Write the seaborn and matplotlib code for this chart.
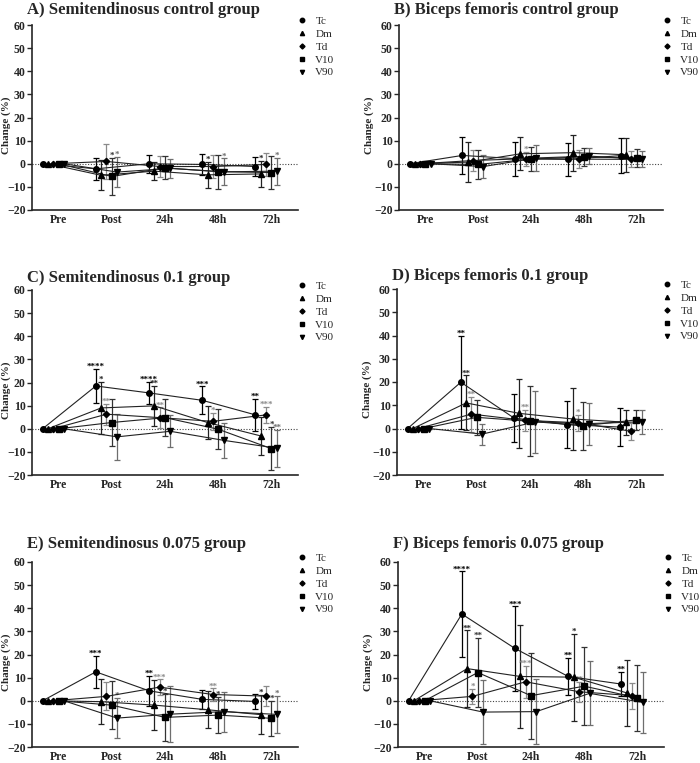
import numpy as np
import pandas as pd
import matplotlib
matplotlib.use('Agg')
import matplotlib.pyplot as plt
import matplotlib.font_manager as fm
import seaborn as sns
from matplotlib.lines import Line2D

# make sure the Times-like serif is registered
for f in fm.findSystemFonts():
    if 'LiberationSerif' in f.replace('-', '').replace(' ', ''):
        fm.fontManager.addfont(f)

# categories
times = ['Pre', 'Post', '24h', '48h', '72h']
series = ['Tc', 'Dm', 'Td', 'V10', 'V90']
titles = ['A) Semitendinosus control group', 'B) Biceps femoris control group',
          'C) Semitendinosus 0.1 group', 'D) Biceps femoris 0.1 group',
          'E) Semitendinosus 0.075 group', 'F) Biceps femoris 0.075 group']

# mean change (%) per panel, one row per series (Tc, Dm, Td, V10, V90)
mean_A = [[0, -2.2, 0.0, -0.3, -1.2], [0, -5.0, -3.2, -4.8, -4.4], [0, 1.0, -1.2, -1.2, -0.3],
          [0, -5.5, -1.8, -3.4, -3.8], [0, -3.6, -2.0, -3.5, -3.2]]
sd_A = [[0, 4.7, 3.9, 4.4, 4.0], [0, 6.5, 4.0, 5.6, 5.7], [0, 7.6, 4.5, 5.0, 5.0],
        [0, 8.0, 5.0, 7.4, 7.0], [0, 6.6, 4.2, 5.8, 5.8]]
stars_A = [['', '', '', '', ''], ['', '', '', '*', '*'], ['', '', '', '', ''],
           ['', '*', '', '', ''], ['', '*', '', '*', '*']]

mean_B = [[0, 3.6, 2.2, 1.9, 3.5], [0, 0.7, 4.3, 4.8, 3.9], [0, 1.4, 2.2, 2.0, 1.9],
          [0, -0.3, 2.0, 3.0, 2.4], [0, -1.2, 2.5, 3.3, 2.0]]
sd_B = [[0, 8.0, 7.3, 7.0, 7.6], [0, 8.5, 7.2, 7.8, 7.3], [0, 4.5, 3.0, 3.8, 3.5],
        [0, 6.3, 5.3, 3.9, 3.9], [0, 5.0, 5.5, 3.5, 3.6]]
stars_B = [['', '', '', '', ''], ['', '', '', '', ''], ['', '', '*', '', ''],
           ['', '', '', '', ''], ['', '', '', '', '']]

mean_C = [[0, 18.5, 15.5, 12.3, 6.0], [0, 9.0, 9.9, 2.7, -3.1], [0, 6.3, 4.8, 3.2, 6.0],
          [0, 2.7, 4.8, -0.2, -8.6], [0, -3.5, -1.1, -5.0, -8.4]]
sd_C = [[0, 7.3, 4.8, 6.0, 7.0], [0, 11.2, 8.8, 7.3, 8.2], [0, 4.5, 4.5, 3.7, 3.6],
        [0, 10.0, 8.0, 8.6, 9.3], [0, 10.0, 7.0, 7.7, 8.0]]
stars_C = [['', '****', '****', '***', '**'], ['', '*', '**', '', ''], ['', '**', '**', '*', '***'],
           ['', '', '', '', '*'], ['', '', '', '', '**']]

mean_D = [[0, 19.9, 4.5, 1.7, 0.6], [0, 11.0, 6.5, 4.1, 2.7], [0, 6.2, 3.5, 2.5, -1.2],
          [0, 4.8, 3.1, 1.2, 3.7], [0, -2.4, 2.8, 2.1, 2.9]]
sd_D = [[0, 20.0, 10.5, 10.0, 8.3], [0, 11.8, 15.0, 13.2, 5.4], [0, 7.5, 4.6, 3.5, 3.6],
        [0, 7.5, 15.0, 10.4, 4.3], [0, 4.5, 13.5, 9.0, 5.2]]
stars_D = [['', '**', '', '', ''], ['', '**', '', '', ''], ['', '**', '**', '*', ''],
           ['', '', '', '', ''], ['', '', '', '', '']]

mean_E = [[0, 12.5, 4.3, 0.6, -0.3], [0, -0.4, -1.9, -3.9, -6.0], [0, 1.9, 5.9, 2.7, 2.0],
          [0, -1.9, -7.2, -6.2, -7.6], [0, -7.5, -5.8, -4.7, -5.9]]
sd_E = [[0, 6.8, 6.4, 4.1, 3.1], [0, 9.7, 10.9, 8.0, 8.5], [0, 6.1, 3.4, 2.6, 4.2],
        [0, 10.3, 10.2, 7.8, 7.5], [0, 8.6, 12.0, 8.6, 7.9]]
stars_E = [['', '***', '**', '', ''], ['', '', '', '', '*'], ['', '', '***', '**', ''],
           ['', '', '*', '*', '*'], ['', '*', '', '', '*']]

mean_F = [[0, 37.5, 22.6, 10.5, 7.2], [0, 13.9, 10.5, 10.2, 3.4], [0, 1.9, 8.2, 3.9, 2.2],
          [0, 12.2, 2.2, 6.3, 1.3], [0, -4.9, -4.7, 3.2, -0.7]]
sd_F = [[0, 18.5, 18.2, 7.9, 5.2], [0, 16.5, 22.4, 18.8, 14.4], [0, 3.3, 6.9, 4.3, 5.6],
        [0, 15.1, 18.6, 16.8, 14.3], [0, 14.0, 14.2, 13.9, 13.3]]
stars_F = [['', '****', '***', '**', '**'], ['', '**', '', '*', ''], ['', '*', '***', '**', ''],
           ['', '**', '', '', ''], ['', '', '', '', '']]

means = [mean_A, mean_B, mean_C, mean_D, mean_E, mean_F]
sds = [sd_A, sd_B, sd_C, sd_D, sd_E, sd_F]
stars = [stars_A, stars_B, stars_C, stars_D, stars_E, stars_F]

markers = {'Tc': 'o', 'Dm': '^', 'Td': 'D', 'V10': 's', 'V90': 'v'}
msize = {'Tc': 4, 'Dm': 3.8, 'Td': 3.2, 'V10': 4, 'V90': 3.8}
errclr = {'Tc': 'black', 'Dm': '#222222', 'Td': '#8a8a8a', 'V10': '#333333', 'V90': '#6e6e6e'}
offset = {'Tc': -0.3, 'Dm': -0.2, 'Td': -0.1, 'V10': 0.0, 'V90': 0.1}

sns.set_theme(style='ticks')
plt.rcParams['font.family'] = ['Liberation Serif', 'DejaVu Serif']

fig = plt.figure(figsize=(7, 7.63), dpi=100)
W, H = 700, 763
# axes boxes in pixels: left, top, right, bottom
boxes = [(32, 25, 298, 210), (399, 25, 663, 210),
         (32, 290, 298, 475), (397, 289, 663, 475),
         (32, 562, 298, 747), (398, 562, 664, 747)]
title_y = [1.06, 1.06, 1.045, 1.05, 1.075, 1.075]

for p in range(6):
    l, t, r, b = boxes[p]
    ax = fig.add_axes([l / W, 1 - b / H, (r - l) / W, (b - t) / H])
    rows = []
    for i, s in enumerate(series):
        for j, tm in enumerate(times):
            rows.append({'series': s, 'time': tm, 'x': j + offset[s],
                         'mean': means[p][i][j], 'sd': sds[p][i][j], 'star': stars[p][i][j]})
    df = pd.DataFrame(rows)

    ax.axhline(0, ls=(0, (1, 1.5)), color='#444444', lw=0.8, zorder=1)
    for s, g in df.groupby('series', sort=False):
        ax.errorbar(g['x'], g['mean'], yerr=g['sd'], fmt='none', ecolor=errclr[s],
                    elinewidth=0.9, capsize=2, capthick=0.9, zorder=2)
        for _, rw in g.iterrows():
            if rw['star']:
                ax.annotate(rw['star'], (rw['x'], rw['mean'] + rw['sd']), xytext=(0, -1.5),
                            textcoords='offset points', ha='center', va='bottom',
                            fontsize=6.5, fontweight='bold', color=errclr[s])
    sns.lineplot(data=df, x='x', y='mean', units='series', estimator=None, sort=False,
                 color='#222222', lw=0.8, ax=ax, legend=False, zorder=3)
    for s, g in df.groupby('series', sort=False):
        ax.plot(g['x'], g['mean'], ls='none', marker=markers[s], ms=msize[s],
                color='black', zorder=4)

    ax.set_xlim(-0.5, 4.5)
    ax.set_ylim(-20, 60)
    ax.set_yticks(range(-20, 61, 10))
    ax.set_xticks(range(len(times)))
    ax.set_xticklabels(times)
    ax.tick_params(axis='x', length=0, pad=3, labelsize=8.5)
    ax.tick_params(axis='y', length=3.5, width=1, pad=1, labelsize=8.5)
    for lab in ax.get_xticklabels() + ax.get_yticklabels():
        lab.set_fontweight('bold')
    sns.despine(ax=ax)
    ax.spines['left'].set_linewidth(1.2)
    ax.spines['bottom'].set_linewidth(1.2)
    ax.set_xlabel('')
    ax.set_ylabel('Change (%)', fontsize=8, fontweight='bold')
    ax.yaxis.set_label_coords(-0.08 if p % 2 == 0 else -0.095, 0.46)
    ax.text(-0.02, title_y[p], titles[p], transform=ax.transAxes, fontsize=12,
            fontweight='bold', ha='left', va='baseline')

    custom = [Line2D([], [], marker=markers[s], ms=msize[s] * 0.8, color='black', linestyle='None')
              for s in series]
    ax.legend(custom, series, loc='upper left', bbox_to_anchor=(0.99, 1.06), frameon=False,
              fontsize=8, handlelength=0.8, handletextpad=0.8, labelspacing=0.28,
              borderaxespad=0, borderpad=0.2)

fig.savefig('out.png', dpi=100)
